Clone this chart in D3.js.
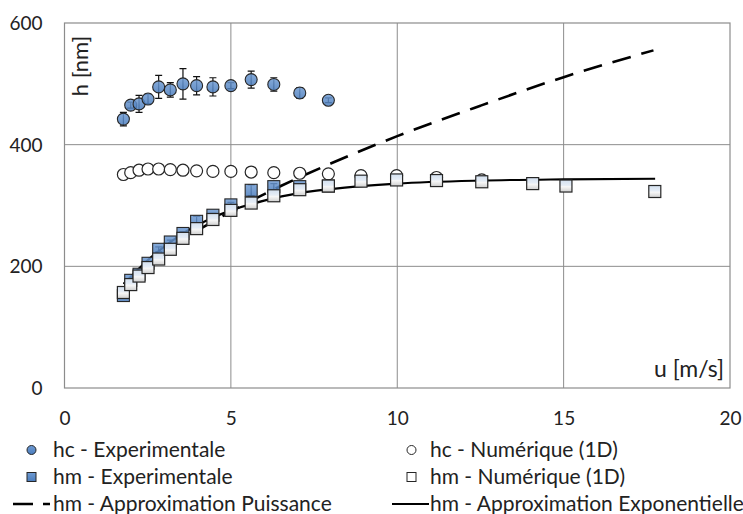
<!DOCTYPE html>
<html><head><meta charset="utf-8">
<script src="https://cdn.jsdelivr.net/npm/d3@7"></script>
<style>
html,body{margin:0;padding:0;background:#fff;}
svg text{font-family:Lato,"Open Sans",sans-serif;fill:#222;}
</style></head>
<body><svg id="c" width="743" height="514"></svg>
<script>
// ---- data ----
const uAll = [1.77,1.99,2.24,2.51,2.83,3.18,3.56,3.97,4.46,5.0,5.61,6.29,7.07,7.93,8.91,9.98,11.18,12.54,14.07,15.07,17.74];
const hcExp = [442,465,467,475,495,490,500,497,495,497,507,499,485,473];
const hcExpErr = [11,5,14,8,19,12,25,15,15,5,14,11,9,4];
const hcNum = [351,354,358,360,360,359,358,357,356,356,355,354,353,352,349,349,346,342];
const hmExp = [152,177,187,205,228,240,254,274,284,301,325,331,331,332];
const hmExpErr = [3,3,3,3,4,3,3,8,3,4,9,5,3,2];
const hmNum = [157,170,184,198,212,228,246,262,277,292,304,316,326,332,340,342,341,339,336,332,323];
const powU = [1.78,2.5,3.5,5,6.5,8,10,12.5,15,17.7];
const powH = [171,203,242,290,332,369,414,464,511,555];
const expU = [1.78,2.5,3.5,4.5,5,6,7,8,10,12.5,15,17.75];
const expH = [171,210,252,281,292,308,320,327,336,341,343,344];
const xTicks = [0,5,10,15,20];
const yTicks = [0,200,400,600];
const legendLabels = ["hc - Experimentale","hc - Numérique (1D)","hm - Experimentale","hm - Numérique (1D)","hm - Approximation Puissance","hm - Approximation Exponentielle"];

const svg = d3.select("#c");
const L=64.5,R=730,T=23,B=388;
const x = d3.scaleLinear().domain([0,20]).range([L,R]);
const y = d3.scaleLinear().domain([0,600]).range([B,T]);
const grid="#8c8c8c";

const defs = svg.append("defs");
const g1 = defs.append("linearGradient").attr("id","sqNum").attr("x1",0).attr("y1",0).attr("x2",0).attr("y2",1);
[[0,"#d3e0ef"],[0.45,"#e6edf6"],[0.55,"#f7f7f7"],[1,"#cfcfcf"]].forEach(s=>g1.append("stop").attr("offset",s[0]).attr("stop-color",s[1]));
const g2 = defs.append("linearGradient").attr("id","blue").attr("x1",0).attr("y1",0).attr("x2",0).attr("y2",1);
[[0,"#6f9bd3"],[1,"#4a7cbc"]].forEach(s=>g2.append("stop").attr("offset",s[0]).attr("stop-color",s[1]));

// grid
svg.append("g").selectAll("line").data([5,10,15]).join("line")
  .attr("x1",d=>x(d)).attr("x2",d=>x(d)).attr("y1",T).attr("y2",B).attr("stroke",grid).attr("stroke-width",1);
svg.append("g").selectAll("line").data([200,400]).join("line")
  .attr("x1",L).attr("x2",R).attr("y1",d=>y(d)).attr("y2",d=>y(d)).attr("stroke",grid).attr("stroke-width",1);
svg.append("rect").attr("x",L).attr("y",T).attr("width",R-L).attr("height",B-T)
  .attr("fill","none").attr("stroke",grid).attr("stroke-width",1.2);

// axes (labels only)
const xa = svg.append("g").attr("transform",`translate(0,${B})`)
  .call(d3.axisBottom(x).tickValues(xTicks).tickSize(0).tickPadding(24));
const ya = svg.append("g").attr("transform",`translate(${L},0)`)
  .call(d3.axisLeft(y).tickValues(yTicks).tickSize(0).tickPadding(22));
[xa,ya].forEach(a=>{a.select(".domain").remove();a.selectAll("text").style("font-size","19px").attr("fill","#222").style("font-family","Lato");});
ya.selectAll("text").attr("dy","0.35em");

svg.append("text").attr("transform","translate(80,66) rotate(-90)").attr("text-anchor","middle")
  .attr("dy","0.35em").style("font-size","22px").text("h [nm]");
svg.append("text").attr("x",724).attr("y",369).attr("text-anchor","end").attr("dy","0.35em")
  .style("font-size","23px").text("u [m/s]");

// lines
const line = d3.line().x(d=>x(d[0])).y(d=>y(d[1])).curve(d3.curveMonotoneX);
svg.append("path").datum(expU.map((u,i)=>[u,expH[i]])).attr("d",line)
  .attr("fill","none").attr("stroke","#000").attr("stroke-width",2.2);
svg.append("path").datum(powU.map((u,i)=>[u,powH[i]])).attr("d",line)
  .attr("fill","none").attr("stroke","#000").attr("stroke-width",2.6).attr("stroke-dasharray","19,11");

// markers
const r=6, s=12;
function err(data,errs,cap){
  svg.append("g").selectAll("path").data(data.map((h,i)=>[uAll[i],h,errs[i]])).join("path")
   .attr("d",d=>{const cx=x(d[0]),y1=y(d[1]+d[2]),y2=y(d[1]-d[2]);
      return `M${cx},${y1}V${y2}M${cx-cap},${y1}H${cx+cap}M${cx-cap},${y2}H${cx+cap}`;})
   .attr("stroke","#111").attr("stroke-width",1.2).attr("fill","none");
}
err(hcExp,hcExpErr,3.5);
svg.append("g").selectAll("circle").data(hcExp.map((h,i)=>[uAll[i],h])).join("circle")
  .attr("cx",d=>x(d[0])).attr("cy",d=>y(d[1])).attr("r",r)
  .attr("fill","url(#blue)").attr("fill-opacity",0.85).attr("stroke","#262626").attr("stroke-width",1.1);
svg.append("g").selectAll("circle").data(hcNum.map((h,i)=>[uAll[i],h])).join("circle")
  .attr("cx",d=>x(d[0])).attr("cy",d=>y(d[1])).attr("r",r)
  .attr("fill","#fff").attr("stroke","#262626").attr("stroke-width",1.2);
err(hmExp,hmExpErr,3.5);
svg.append("g").selectAll("rect").data(hmExp.map((h,i)=>[uAll[i],h])).join("rect")
  .attr("x",d=>x(d[0])-s/2).attr("y",d=>y(d[1])-s/2).attr("width",s).attr("height",s)
  .attr("fill","url(#blue)").attr("fill-opacity",0.85).attr("stroke","#262626").attr("stroke-width",1.1);
svg.append("g").selectAll("rect").data(hmNum.map((h,i)=>[uAll[i],h])).join("rect")
  .attr("x",d=>x(d[0])-s/2).attr("y",d=>y(d[1])-s/2).attr("width",s).attr("height",s)
  .attr("fill","url(#sqNum)").attr("stroke","#262626").attr("stroke-width",1.2);

// legend
const lg = svg.append("g");
const rows=[450,477,504], colM=[31.5,411.5], colT=[53,430];
lg.append("circle").attr("cx",colM[0]).attr("cy",rows[0]).attr("r",4.5).attr("fill","url(#blue)").attr("stroke","#262626");
lg.append("circle").attr("cx",colM[1]).attr("cy",rows[0]).attr("r",4.5).attr("fill","#fff").attr("stroke","#262626");
lg.append("rect").attr("x",colM[0]-4.5).attr("y",rows[1]-4.5).attr("width",9).attr("height",9).attr("fill","url(#blue)").attr("stroke","#262626");
lg.append("rect").attr("x",colM[1]-4.5).attr("y",rows[1]-4.5).attr("width",9).attr("height",9).attr("fill","#fff").attr("stroke","#262626");
lg.append("line").attr("x1",13).attr("x2",50).attr("y1",rows[2]).attr("y2",rows[2]).attr("stroke","#000").attr("stroke-width",2.6).attr("stroke-dasharray","20,10");
lg.append("line").attr("x1",392).attr("x2",429).attr("y1",rows[2]).attr("y2",rows[2]).attr("stroke","#000").attr("stroke-width",2.2);
const pos=[[colT[0],rows[0]],[colT[1],rows[0]],[colT[0],rows[1]],[colT[1],rows[1]],[colT[0],rows[2]],[colT[1],rows[2]]];
lg.selectAll("text").data(legendLabels).join("text")
  .attr("x",(d,i)=>pos[i][0]).attr("y",(d,i)=>pos[i][1]).attr("dy","0.35em")
  .style("font-size","21px").text(d=>d);
</script></body></html>
